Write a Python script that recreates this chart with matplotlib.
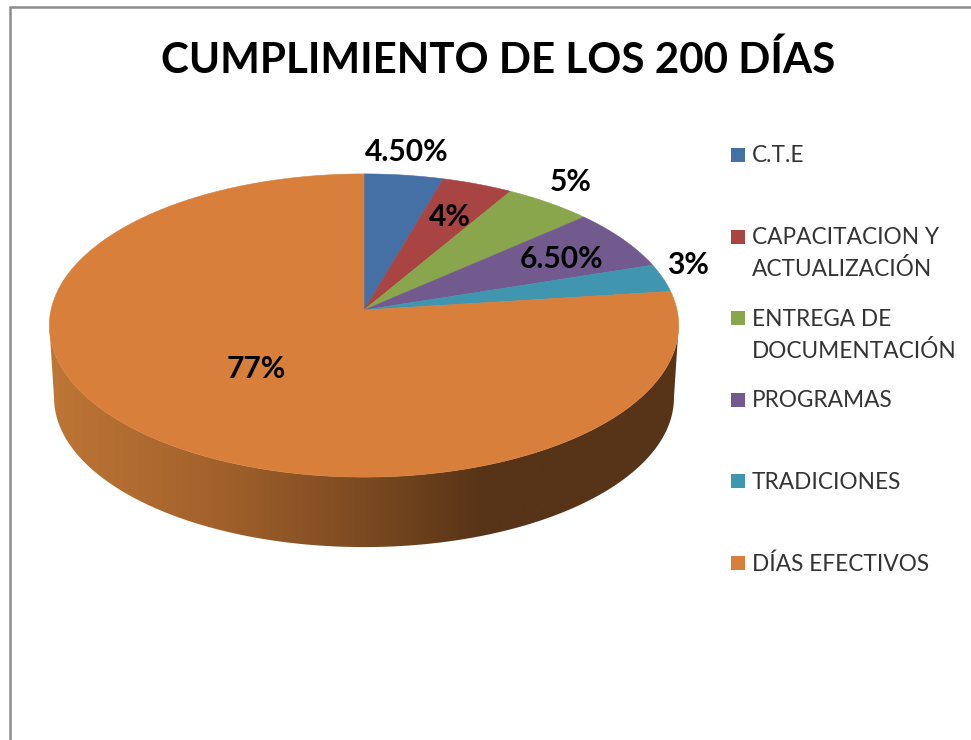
import numpy as np
import matplotlib
matplotlib.use("Agg")
import matplotlib.pyplot as plt
from matplotlib.colors import LinearSegmentedColormap
from matplotlib.patches import Polygon, Rectangle

# ---- data ----
categories = ["C.T.E", "CAPACITACION Y\nACTUALIZACIÓN", "ENTREGA DE\nDOCUMENTACIÓN",
              "PROGRAMAS", "TRADICIONES", "DÍAS EFECTIVOS"]
values = [4.5, 4, 5, 6.5, 3, 77]
value_labels = ["4.50%", "4%", "5%", "6.50%", "3%", "77%"]
title = "CUMPLIMIENTO DE LOS 200 DÍAS"

# ---- styles / layout ----
colors = ["#4570A5", "#A84543", "#8AA64C", "#725A8F", "#3F96AE", "#D77F3B"]
label_xy = [(407, 152), (450, 217), (571, 182), (562, 259), (688, 265), (256, 369)]
legend_x, legend_y0, legend_dy, legend_line = 738, 156, 81.6, 31.5
FONT = "Lato"
CX, CY, RX, RY, K = 364, 310, 313, 150, 0.1023
DEPTH, LOWER_SCALE = 72.5, 0.985

fig = plt.figure(figsize=(9.71, 7.4), dpi=100, facecolor="white")
ax = fig.add_axes([0, 0, 1, 1])


def project(theta, r=1.0, scale=1.0, dy=0.0):
    """Clockwise-from-top angle on the disc -> perspective pixel position."""
    x, y = r * np.sin(theta), r * np.cos(theta)
    d = 1 + K * y
    return CX + scale * RX * x / d, CY + dy - scale * RY * y / d


# side wall: gradient clipped to the front part of the rim, between the
# left-most and right-most points of the projected disc
half = np.arccos(K)
front = np.linspace(-half, half, 500) + np.pi
lx, ly = project(front[::-1], scale=LOWER_SCALE, dy=DEPTH)
ux, uy = project(front)
wall = Polygon(np.column_stack([np.r_[lx, ux], np.r_[ly, uy]]), closed=True,
               transform=ax.transData, fc="none", ec="none")
ax.add_patch(wall)
cmap = LinearSegmentedColormap.from_list("wall", [
    (0.00, "#BE7635"), (0.33, "#A2612C"), (0.66, "#75471F"),
    (0.85, "#573317"), (1.00, "#573317")])
grad = ax.imshow(np.linspace(0, 1, 512)[None, :], cmap=cmap, aspect="auto",
                 extent=(49, 560, 560, 300), interpolation="bilinear", zorder=1)
grad.set_clip_path(wall)
ax.add_patch(Rectangle((560, 300), 130, 260, fc="#573317", ec="none", zorder=1,
                       clip_path=wall))

# top face
cum = np.r_[0, np.cumsum(values)] / np.sum(values) * 2 * np.pi
for i, c in enumerate(colors):
    th = np.linspace(cum[i], cum[i + 1], max(int((cum[i + 1] - cum[i]) * 120), 8))
    px, py = project(th)
    ax.fill(np.r_[CX, px], np.r_[CY, py], fc=c, ec=c, lw=0.4, zorder=2)

# data labels
for (lxp, lyp), s in zip(label_xy, value_labels):
    ax.text(lxp, lyp, s, ha="center", va="center", fontsize=21.6, fontweight="bold",
            family=FONT, color="#000000", zorder=3)

# title
ax.text(498, 60, title, ha="center", va="center", fontsize=30.3, fontweight="bold",
        family=FONT, color="#000000")

# legend
for i, (name, c) in enumerate(zip(categories, colors)):
    y = legend_y0 + i * legend_dy
    ax.plot([legend_x], [y - 1], marker="s", ms=10, mfc=c, mec=c, mew=0, ls="none")
    for j, line in enumerate(name.split("\n")):
        ax.text(752, y + j * legend_line, line, ha="left", va="center", fontsize=16.3,
                family=FONT, color="#333333")

# chart frame (left and top edges)
ax.plot([10, 10, 971], [740, 7, 7], color="#8C8C8C", lw=1.8, solid_joinstyle="miter")

ax.set_xlim(0, 971)
ax.set_ylim(740, 0)
ax.axis("off")
fig.savefig("out.png", dpi=100, facecolor="white")
